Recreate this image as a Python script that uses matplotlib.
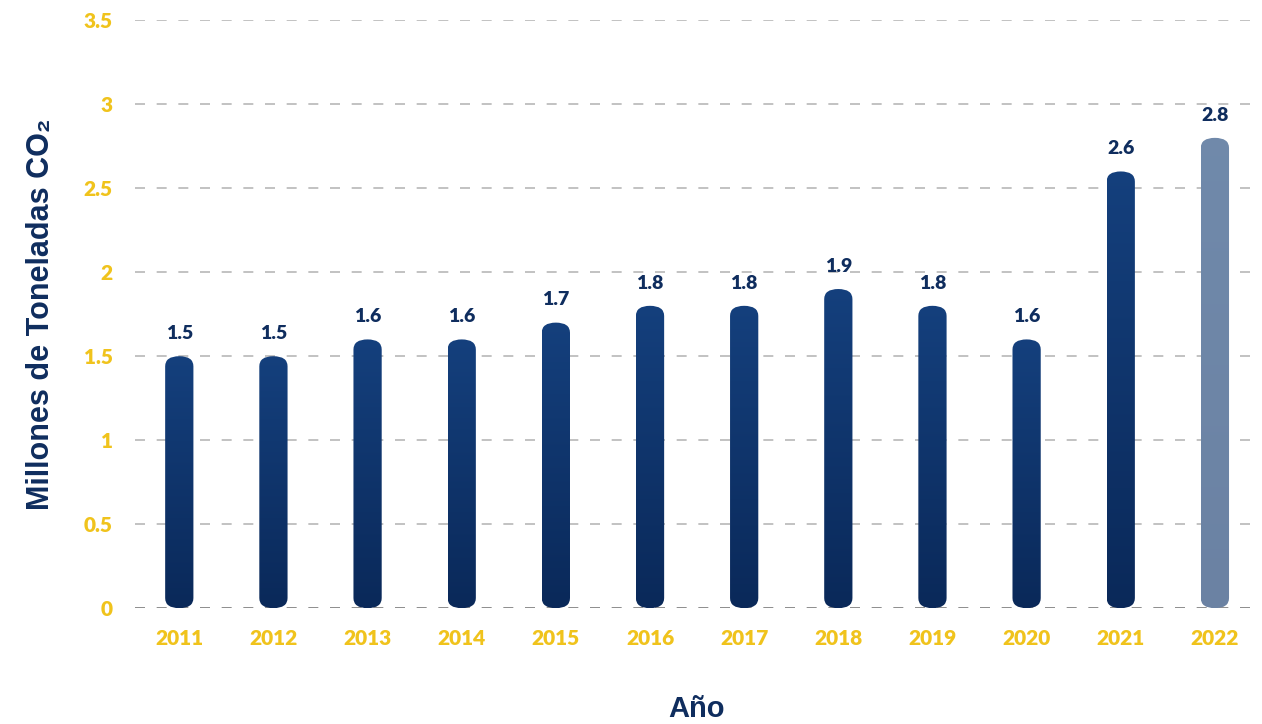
import numpy as np
import matplotlib.pyplot as plt
from matplotlib.patches import FancyBboxPatch

# emisiones anuales (millones de toneladas de CO2)
years = ["2011", "2012", "2013", "2014", "2015", "2016",
         "2017", "2018", "2019", "2020", "2021", "2022"]
values = [1.5, 1.5, 1.6, 1.6, 1.7, 1.8, 1.8, 1.9, 1.8, 1.6, 2.6, 2.8]
yticks = [0, 0.5, 1, 1.5, 2, 2.5, 3, 3.5]
ytick_labels = ["0", "0.5", "1", "1.5", "2", "2.5", "3", "3.5"]

navy = "#0f2d5e"
yellow = "#f0c31c"

fig = plt.figure(figsize=(12.62, 7.24), dpi=100)
ax = fig.add_axes([0.107, 0.160, 0.890, 0.812])

x = np.arange(len(years))
bars = ax.bar(x, values, width=0.30, color="none", zorder=3)

# cylinders: rounded patch + soft vertical gradient clipped to it
for i, rect in enumerate(bars):
    bx, by = rect.get_xy()
    w, h = rect.get_width(), rect.get_height()
    rect.remove()
    patch = FancyBboxPatch((bx, by), w, h,
                           boxstyle="round,pad=0,rounding_size=0.15",
                           mutation_aspect=0.40, facecolor="none",
                           edgecolor="none", zorder=3)
    ax.add_patch(patch)
    if i == len(years) - 1:
        top_c, bot_c = np.array([0.44, 0.54, 0.67]), np.array([0.42, 0.51, 0.64])
    else:
        top_c, bot_c = np.array([0.08, 0.25, 0.49]), np.array([0.04, 0.16, 0.35])
    grad = np.linspace(0, 1, 256)[:, None]
    img = top_c[None, None, :] * (1 - grad[..., None]) + bot_c[None, None, :] * grad[..., None]
    img = np.repeat(img, 2, axis=1)
    im = ax.imshow(img, extent=(bx, bx + w, by, by + h), aspect="auto",
                   origin="upper", zorder=3)
    im.set_clip_path(patch)
    ax.text(x[i], values[i] + 0.085, f"{values[i]:.1f}", ha="center", va="bottom",
            fontsize=14, fontweight="heavy", color=navy, family="Lato", zorder=4)

ax.set_xlim(-0.47, 11.46)
ax.set_ylim(0, 3.5)

# dashed horizontal guides
for t in yticks:
    ax.axhline(t, color="#7a7a7a" if t == 0 else "#b8b8b8", lw=1.2,
               linestyle=(0, (6, 7)), zorder=1)

ax.set_yticks(yticks)
ax.set_yticklabels(ytick_labels)
ax.set_xticks(x)
ax.set_xticklabels(years)
ax.tick_params(axis="both", length=0, colors=yellow, labelsize=15)
ax.tick_params(axis="y", pad=16)
ax.tick_params(axis="x", pad=15)
for lab in ax.get_xticklabels() + ax.get_yticklabels():
    lab.set_fontweight("heavy")
    lab.set_family("Lato")

for s in ax.spines.values():
    s.set_visible(False)

ax.set_ylabel("Millones de Toneladas CO₂", fontsize=22, fontweight="bold",
              color=navy, family=["Liberation Sans", "DejaVu Sans"], labelpad=20)
ax.set_xlabel("Año", fontsize=21, fontweight="bold", color=navy,
              family=["Liberation Sans", "DejaVu Sans"], labelpad=34)

fig.savefig("out.png", dpi=100)
